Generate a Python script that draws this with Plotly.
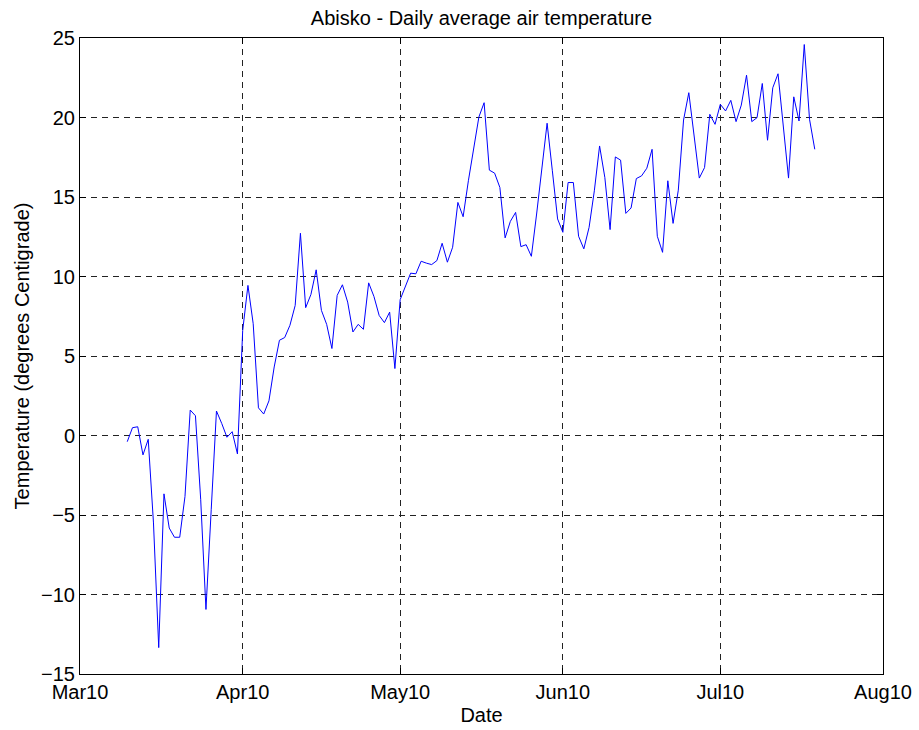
import pandas as pd
import plotly.graph_objects as go

# Daily average air temperature at Abisko, 10 Mar - 19 Jul 2010 (deg C)
start_date = "2010-03-10"
temps = [
    -0.39, 0.49, 0.55, -1.22, -0.24, -5.5, -13.34, -3.67, -5.82, -6.4,
    -6.4, -3.84, 1.6, 1.24, -4.04, -10.94, -4.67, 1.54, 0.76, -0.11,
    0.24, -1.16, 6.6, 9.44, 7.03, 1.74, 1.35, 2.18, 4.31, 5.99,
    6.16, 6.93, 8.18, 12.72, 8.04, 8.87, 10.42, 7.87, 6.99, 5.47,
    8.81, 9.48, 8.39, 6.51, 6.99, 6.68, 9.6, 8.75, 7.55, 7.1,
    7.76, 4.21, 8.54, 9.33, 10.21, 10.17, 10.96, 10.84, 10.75, 11.0,
    12.09, 10.9, 11.84, 14.66, 13.76, 16.02, 18.11, 20.03, 20.93, 16.69,
    16.5, 15.6, 12.43, 13.47, 14.03, 11.88, 12.0, 11.27, 13.93, 16.65,
    19.64, 16.65, 13.62, 12.78, 15.91, 15.91, 12.53, 11.74, 13.09, 15.39,
    18.21, 16.23, 12.95, 17.52, 17.32, 13.97, 14.31, 16.16, 16.33, 16.81,
    18.0, 12.53, 11.52, 16.02, 13.34, 15.43, 19.84, 21.56, 18.84, 16.19,
    16.85, 20.2, 19.57, 20.83, 20.41, 21.08, 19.74, 20.78, 22.66, 19.74,
    19.99, 22.14, 18.57, 21.87, 22.75, 19.36, 16.19, 21.3, 19.78, 24.59,
    19.89, 18.0,
]
dates = pd.date_range(start_date, periods=len(temps), freq="D")

month_ticks = ["2010-03-01", "2010-04-01", "2010-05-01",
               "2010-06-01", "2010-07-01", "2010-08-01"]
month_labels = ["Mar10", "Apr10", "May10", "Jun10", "Jul10", "Aug10"]
temp_ticks = [-15, -10, -5, 0, 5, 10, 15, 20, 25]

FONT = "Liberation Sans, Arial, Helvetica, sans-serif"
FSIZE = 20

fig = go.Figure()
fig.add_trace(go.Scatter(
    x=dates, y=temps, mode="lines",
    line=dict(color="#0000FF", width=1),
    showlegend=False,
))

axis_common = dict(
    showline=True, linecolor="black", linewidth=1, mirror="ticks",
    ticks="inside", ticklen=6, tickcolor="black", tickwidth=1,
    showgrid=True, gridcolor="#222222", gridwidth=1, griddash="6px,5px",
    zeroline=False, automargin=False,
    tickfont=dict(family=FONT, size=FSIZE, color="black"),
)

fig.update_layout(
    width=919, height=730,
    margin=dict(l=80, r=36, t=38, b=56),
    paper_bgcolor="white", plot_bgcolor="white",
    font=dict(family=FONT, size=FSIZE, color="black"),
    title=dict(text="Abisko - Daily average air temperature",
               xref="paper", x=0.5, xanchor="center",
               y=0.976, yanchor="middle",
               font=dict(family=FONT, size=FSIZE, color="black")),
    xaxis=dict(
        type="date", range=[month_ticks[0], month_ticks[-1]],
        tickvals=month_ticks, ticktext=month_labels, ticklabelstandoff=0,
        title=dict(text="Date", standoff=5,
                   font=dict(family=FONT, size=FSIZE, color="black")),
        **axis_common,
    ),
    yaxis=dict(
        range=[-15, 25], tickvals=temp_ticks,
        title=dict(text="Temperature (degrees Centigrade)", standoff=6,
                   font=dict(family=FONT, size=FSIZE, color="black")),
        **axis_common,
    ),
)

fig.write_html("out.html")
